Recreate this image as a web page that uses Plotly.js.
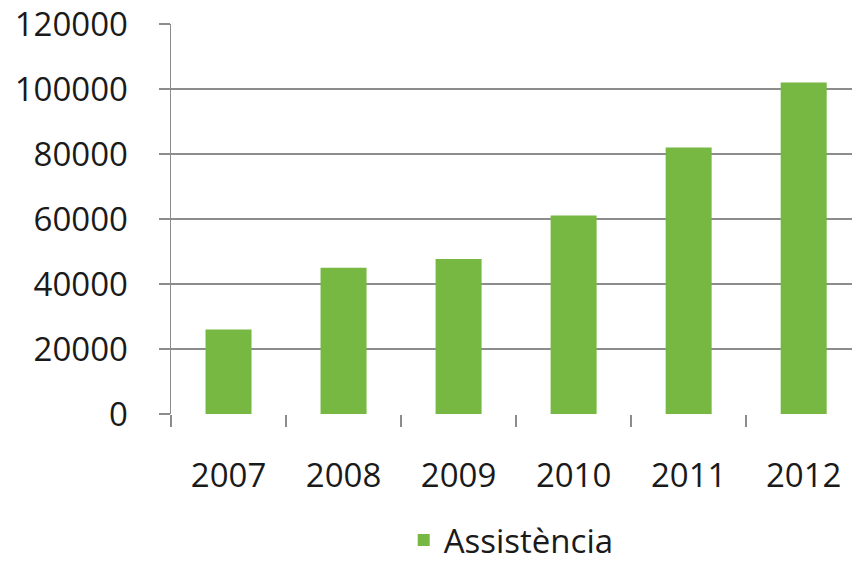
<!DOCTYPE html>
<html>
<head>
<meta charset="utf-8">
<script src="https://cdn.plot.ly/plotly-3.0.1.min.js"></script>
<style>html,body{margin:0;padding:0;background:#fff;}#chart{width:852px;height:566px;}</style>
</head>
<body>
<div id="chart"></div>
<script>
const years = ['2007', '2008', '2009', '2010', '2011', '2012'];
const assistencia = [26000, 45000, 47700, 61100, 82000, 102000];
const seriesName = 'Assistència';
const yTicks = [0, 20000, 40000, 60000, 80000, 100000, 120000];

const trace = {
  type: 'bar',
  x: years,
  y: assistencia,
  name: seriesName,
  marker: {color: '#77b843'},
  width: 0.4,
  showlegend: true
};

const font = {family: 'Open Sans, sans-serif', size: 33, color: '#1a1a1a'};

const layout = {
  width: 852,
  height: 566,
  margin: {l: 171, r: 0, t: 24, b: 152},
  paper_bgcolor: '#ffffff',
  plot_bgcolor: '#ffffff',
  font: font,
  showlegend: true,
  xaxis: {
    type: 'category',
    range: [-0.5, 5.42],
    showgrid: false,
    showline: false,
    zeroline: false,
    ticks: 'outside',
    tickson: 'boundaries',
    ticklen: 12,
    tickwidth: 1.5,
    tickcolor: '#8c8c8c',
    ticklabelstandoff: 39,
    tickfont: font
  },
  yaxis: {
    range: [0, 120000],
    tickvals: yTicks,
    ticktext: yTicks.map(String),
    showgrid: true,
    gridcolor: '#8c8c8c',
    gridwidth: 1.5,
    zeroline: false,
    showline: true,
    linecolor: '#8c8c8c',
    linewidth: 1.5,
    ticks: 'outside',
    ticklen: 11,
    tickwidth: 1.5,
    tickcolor: '#8c8c8c',
    ticklabelstandoff: 24,
    tickfont: font
  },
  legend: {
    orientation: 'h',
    xref: 'container',
    yref: 'container',
    x: 0.6,
    xanchor: 'center',
    y: 0.046,
    yanchor: 'middle',
    font: font,
    itemwidth: 30
  }
};

Plotly.newPlot('chart', [trace], layout, {staticPlot: true, displayModeBar: false});
</script>
</body>
</html>
